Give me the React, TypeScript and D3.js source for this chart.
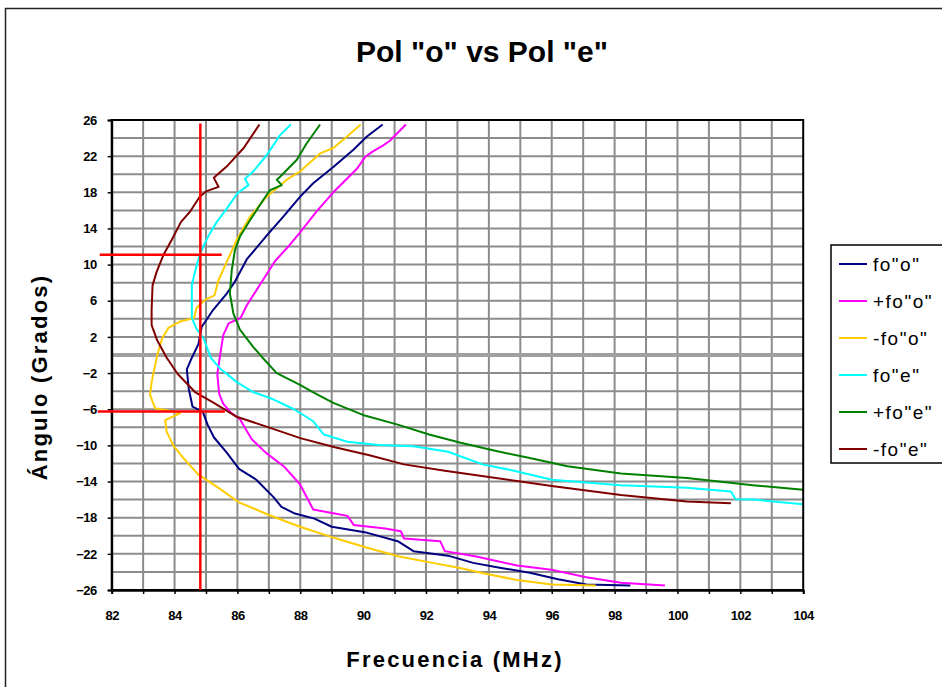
import React, { useEffect, useRef } from 'react';
import * as d3 from 'd3';

const W = 942;
const H = 687;

// [frecuencia MHz, angulo grados]
const foO = [
  [90.62, 25.5], [90.11, 24.15], [89.69, 22.7], [89.05, 20.8], [88.41, 19.0], [87.99, 17.5],
  [87.46, 15.3], [86.93, 13.2], [86.3, 10.6], [85.9, 8.0], [85.66, 6.8], [85.23, 5.0],
  [84.86, 3.1], [84.76, 1.2], [84.55, -0.3], [84.39, -1.6], [84.45, -3.7], [84.57, -5.7],
  [84.9, -6.3], [85.05, -7.7], [85.25, -9.1], [85.66, -10.8], [86.05, -12.6], [86.6, -13.8],
  [87.14, -15.7], [87.4, -16.8], [87.8, -17.5], [88.45, -18.1], [89.0, -19.0], [90.05, -19.6],
  [91.1, -20.6], [91.6, -21.7], [92.7, -22.2], [93.5, -23.0], [94.3, -23.5], [95.3, -24.1],
  [96.2, -24.8], [97.1, -25.4], [98.5, -25.5],
];
const foOplus = [
  [91.36, 25.5], [90.85, 23.7], [90.64, 23.2], [90.3, 22.5], [90.06, 21.9], [89.8, 20.6],
  [89.05, 18.0], [88.52, 15.9], [88.0, 13.6], [87.67, 12.2], [87.2, 10.4], [86.72, 7.8],
  [86.3, 5.5], [86.1, 4.1], [85.72, 3.5], [85.55, 2.2], [85.45, 0], [85.36, -2.1],
  [85.42, -4.3], [85.55, -5.4], [85.8, -6.4], [86.08, -7.1], [86.45, -9.3], [86.9, -10.8],
  [87.5, -12.4], [87.99, -14.3], [88.41, -17.1], [89.05, -17.5], [89.5, -17.8], [89.7, -18.8],
  [90.7, -19.2], [91.2, -19.5], [91.3, -20.3], [92.45, -20.6], [92.6, -21.7], [93.6, -22.3],
  [94.9, -23.3], [96.05, -23.8], [97.1, -24.6], [98.2, -25.2], [99.6, -25.5],
];
const foOminus = [
  [89.92, 25.5], [89.48, 24.15], [89.05, 22.9], [88.63, 22.3], [87.99, 20.3], [87.57, 19.4],
  [86.93, 17.5], [86.4, 15.3], [86.0, 12.9], [85.7, 10.6], [85.4, 8.3], [85.27, 6.6],
  [84.97, 6.1], [84.7, 5.2], [84.62, 4.1], [84.17, 3.7], [83.8, 3.0], [83.6, 1.8],
  [83.45, 0], [83.27, -3.0], [83.22, -4.4], [83.38, -5.9], [83.75, -6.1], [84.17, -6.45],
  [83.7, -7.2], [83.75, -8.5], [83.96, -10.0], [84.28, -11.4], [84.75, -13.2], [85.4, -14.7],
  [86.05, -16.3], [86.5, -16.95], [87.0, -17.7], [87.99, -19.0], [89.05, -20.2], [90.1, -21.3],
  [91.15, -22.3], [92.2, -23.0], [93.0, -23.5], [93.9, -24.2], [94.9, -24.9], [96.0, -25.4],
  [97.4, -25.5],
];
const foE = [
  [87.7, 25.5], [87.35, 24.3], [86.93, 22.1], [86.5, 20.3], [86.24, 19.5], [86.35, 18.8],
  [86.0, 17.9], [85.66, 16.2], [85.34, 14.7], [85.05, 13.0], [84.8, 11.1], [84.65, 9.2],
  [84.55, 7.7], [84.55, 4.1], [84.7, 2.9], [84.93, 1.8], [85.15, -0.3], [85.45, -1.5],
  [85.98, -3.0], [86.5, -4.1], [87.14, -4.9], [87.8, -6.0], [88.4, -7.3], [88.75, -8.8],
  [89.5, -9.6], [90.5, -9.95], [91.6, -10.1], [92.7, -10.7], [93.8, -12.1], [94.8, -12.8],
  [96.0, -13.8], [98.2, -14.4], [100.3, -14.7], [101.7, -15.1], [101.85, -15.95], [102.4, -16.0],
  [104.0, -16.5],
];
const foEplus = [
  [88.63, 25.5], [88.2, 23.4], [87.89, 21.6], [87.35, 19.7], [87.25, 19.4], [87.41, 18.8],
  [87.04, 18.25], [86.82, 17.15], [86.4, 14.9], [86.08, 13.1], [85.92, 11.6], [85.82, 9.4],
  [85.76, 6.8], [85.87, 4.6], [86.08, 2.8], [86.5, 0.9], [86.8, -0.3], [87.25, -2.0],
  [87.99, -3.3], [88.4, -4.1], [89.05, -5.3], [90.05, -6.7], [91.1, -7.7], [92.1, -8.8],
  [93.1, -9.7], [94.2, -10.6], [95.3, -11.4], [96.5, -12.3], [98.2, -13.1], [100.3, -13.6],
  [102.4, -14.4], [104.0, -14.9],
];
const foEminus = [
  [86.7, 25.5], [86.2, 22.9], [85.7, 21.0], [85.25, 19.6], [85.4, 18.6], [85.0, 18.1],
  [84.8, 17.5], [84.5, 15.9], [84.2, 14.7], [83.95, 13.0], [83.65, 11.1], [83.43, 9.2],
  [83.3, 7.7], [83.27, 5.0], [83.27, 3.3], [83.45, 1.6], [83.75, -0.3], [84.1, -2.1],
  [84.65, -4.1], [85.25, -5.3], [85.95, -6.8], [86.9, -7.9], [88.0, -9.2], [89.1, -10.2],
  [90.2, -11.1], [91.3, -12.1], [92.6, -12.8], [94.0, -13.5], [96.0, -14.5], [98.2, -15.5],
  [100.3, -16.2], [101.7, -16.4],
];

const seriesNames = ['fo"o"', '+fo"o"', '-fo"o"', 'fo"e"', '+fo"e"', '-fo"e"'];
const seriesColors = ['#000080', '#ff00ff', '#ffcc00', '#00ffff', '#008000', '#800000'];
const seriesData = [foO, foOplus, foOminus, foE, foEplus, foEminus];

const xLabels = [82, 84, 86, 88, 90, 92, 94, 96, 98, 100, 102, 104];
const yLabels = [26, 22, 18, 14, 10, 6, 2, -2, -6, -10, -14, -18, -22, -26];

// red marker lines drawn over the chart
const redVertical = [[84.82, 25.6], [84.82, -26]];
const redTop = [[81.62, 11.1], [85.5, 11.1]];
const redBottom = [[81.55, -6.25], [85.6, -6.25]];

const App = () => {
  const ref = useRef<SVGSVGElement>(null);

  useEffect(() => {
    const svg = d3.select(ref.current);
    svg.selectAll('*').remove();

    const left = 111.7, right = 803.2, top = 120, bottom = 590;
    const x = d3.scaleLinear().domain([82, 104]).range([left, right]);
    const y = d3.scaleLinear().domain([-26, 26]).range([bottom, top]);
    const sans = '"Liberation Sans", Arial, sans-serif';

    svg.append('rect').attr('width', W).attr('height', H).attr('fill', '#fff');
    svg.append('rect')
      .attr('x', 5.5).attr('y', 8.5).attr('width', 980).attr('height', 720)
      .attr('fill', 'none').attr('stroke', '#222').attr('stroke-width', 1.5);

    svg.append('text')
      .attr('x', 482).attr('y', 62).attr('text-anchor', 'middle')
      .style('font-family', sans)
      .style('font-weight', 'bold').style('font-size', '30px')
      .text('Pol "o" vs Pol "e"');

    // grid
    const grid = svg.append('g');
    grid.selectAll('line.v').data(d3.range(83, 104)).enter().append('line')
      .attr('x1', d => x(d)).attr('x2', d => x(d)).attr('y1', top).attr('y2', bottom)
      .attr('stroke', '#8c8c8c').attr('stroke-width', 2);
    grid.selectAll('line.h').data(d3.range(-24, 26, 2).filter(d => d !== 0)).enter().append('line')
      .attr('x1', left).attr('x2', right).attr('y1', d => y(d)).attr('y2', d => y(d))
      .attr('stroke', '#8c8c8c').attr('stroke-width', 2);
    grid.append('line')
      .attr('x1', left).attr('x2', right).attr('y1', y(0)).attr('y2', y(0))
      .attr('stroke', '#a0a0a0').attr('stroke-width', 4);

    // series
    svg.append('clipPath').attr('id', 'plotclip').append('rect')
      .attr('x', left).attr('y', top).attr('width', right - left).attr('height', bottom - top);
    const line = d3.line<number[]>().x(d => x(d[0])).y(d => y(d[1]));
    const plot = svg.append('g').attr('clip-path', 'url(#plotclip)');
    seriesData.forEach((s, i) => {
      plot.append('path').datum(s).attr('d', line)
        .attr('fill', 'none').attr('stroke', seriesColors[i]).attr('stroke-width', 2)
        .attr('stroke-linejoin', 'round');
    });

    // frame
    svg.append('rect')
      .attr('x', left).attr('y', top).attr('width', right - left).attr('height', bottom - top)
      .attr('fill', 'none').attr('stroke', '#000').attr('stroke-width', 2);

    const yAxis = svg.append('g').attr('transform', `translate(${left},0)`)
      .call(d3.axisLeft(y).tickValues(yLabels).tickSize(4).tickPadding(11).tickFormat(d3.format('d')));
    const xMinor = svg.append('g').attr('transform', `translate(0,${bottom})`)
      .call(d3.axisBottom(x).tickValues(d3.range(82, 105)).tickSize(4).tickFormat(() => ''));
    const xAxis = svg.append('g').attr('transform', `translate(0,${bottom})`)
      .call(d3.axisBottom(x).tickValues(xLabels).tickSize(0).tickPadding(21).tickFormat(d3.format('d')));
    [yAxis, xMinor, xAxis].forEach(a => {
      a.select('.domain').attr('stroke', '#000').attr('stroke-width', 2);
      a.selectAll('.tick line').attr('stroke', '#000').attr('stroke-width', 1.5);
      a.selectAll('.tick text')
        .style('font-family', sans).style('font-size', '13px').style('font-weight', 'bold')
        .style('letter-spacing', '-0.5px')
        .attr('fill', '#000');
    });

    svg.append('text')
      .attr('x', 455).attr('y', 667).attr('text-anchor', 'middle')
      .style('font-family', sans)
      .style('font-weight', 'bold').style('font-size', '22px').style('letter-spacing', '2.2px')
      .text('Frecuencia (MHz)');
    svg.append('text')
      .attr('transform', `translate(47,${(top + bottom) / 2 + 22}) rotate(-90)`)
      .attr('text-anchor', 'middle')
      .style('font-family', sans)
      .style('font-weight', 'bold').style('font-size', '22px').style('letter-spacing', '2.2px')
      .text('Ángulo (Grados)');

    // red markers
    const redLine = d3.line<number[]>().x(d => x(d[0])).y(d => y(d[1]));
    [redVertical, redTop, redBottom].forEach(r => {
      svg.append('path').datum(r).attr('d', redLine)
        .attr('fill', 'none').attr('stroke', '#ff0000').attr('stroke-width', 2.5);
    });

    // legend
    const lg = svg.append('g').attr('transform', 'translate(831,245)');
    lg.append('rect').attr('width', 140).attr('height', 218)
      .attr('fill', '#fff').attr('stroke', '#000').attr('stroke-width', 1.5);
    seriesNames.forEach((n, i) => {
      const cy = 19 + i * 37;
      lg.append('line').attr('x1', 8).attr('x2', 36).attr('y1', cy).attr('y2', cy)
        .attr('stroke', seriesColors[i]).attr('stroke-width', 2);
      lg.append('text').attr('x', 42).attr('y', cy + 7)
        .style('font-family', sans).style('font-size', '19px').style('letter-spacing', '1.5px')
        .text(n);
    });
  }, []);

  return (
    <svg ref={ref} width={W} height={H} style={{ position: 'absolute', left: 0, top: 0 }} />
  );
};

export default App;
